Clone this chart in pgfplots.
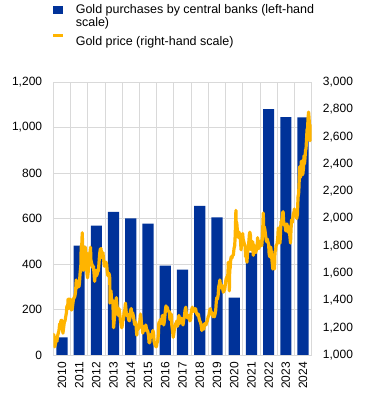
\documentclass[border=0pt]{standalone}
\usepackage{fontspec}
\setmainfont{Liberation Sans}
\usepackage{pgfplots}
\pgfplotsset{compat=1.18}
\definecolor{ecbblue}{HTML}{003299}
\definecolor{ecbgold}{HTML}{FFB400}
\definecolor{gridgray}{HTML}{D9D9D9}
\newcommand{\chartfont}{\fontsize{12bp}{13.5bp}\selectfont}
\newcommand{\legfont}{\fontsize{12.5bp}{13bp}\selectfont}
\begin{document}
\chartfont
\begin{tikzpicture}
\path[use as bounding box] (0,0) rectangle (373bp,405bp);
\begin{axis}[
  at={(53.3bp,50bp)}, anchor=south west, scale only axis,
  width=258.4bp, height=273bp,
  xmin=2010, xmax=2025, ymin=0, ymax=1200,
  ytick={0,200,400,600,800,1000,1200},
  xtick={2010.5,2011.5,2012.5,2013.5,2014.5,2015.5,2016.5,2017.5,2018.5,2019.5,2020.5,2021.5,2022.5,2023.5,2024.5},
  xticklabels={2010,2011,2012,2013,2014,2015,2016,2017,2018,2019,2020,2021,2022,2023,2024},
  minor xtick={2011,2012,2013,2014,2015,2016,2017,2018,2019,2020,2021,2022,2023,2024},
  xminorgrids=true, ymajorgrids=true, xmajorgrids=false,
  grid style={gridgray, line width=0.9bp},
  minor grid style={gridgray, line width=0.9bp},
  axis line style={gridgray, line width=0.9bp},
  major tick length=0pt, minor tick length=0pt,
  tick label style={font=\chartfont, inner sep=0pt, text=black},
  xticklabel style={rotate=90, anchor=east},
  xticklabel shift=7bp,
  yticklabel shift=11bp,
  /pgf/number format/.cd, 1000 sep={,}, assume math mode=true, /pgfplots/.cd,
]
\addplot[ybar, bar width=0.65, fill=ecbblue, draw=none] coordinates {
(2010.5,77) (2011.5,481) (2012.5,569) (2013.5,629) (2014.5,600) (2015.5,578)
(2016.5,393) (2017.5,375) (2018.5,656) (2019.5,605) (2020.5,252) (2021.5,450)
(2022.5,1081) (2023.5,1046) (2024.5,1044)};
\end{axis}
\begin{axis}[
  at={(53.3bp,50bp)}, anchor=south west, scale only axis,
  width=258.4bp, height=273bp,
  xmin=2010, xmax=2025, ymin=1000, ymax=3000,
  axis x line=none, axis y line*=right,
  y axis line style={draw=none},
  ytick={1000,1200,1400,1600,1800,2000,2200,2400,2600,2800,3000},
  major tick length=0pt,
  tick label style={font=\chartfont, inner sep=0pt, text=black},
  yticklabel shift=11bp,
  /pgf/number format/.cd, 1000 sep={,}, assume math mode=true, /pgfplots/.cd,
]
\addplot[ecbgold, line width=3.2bp, line join=round] coordinates {
(2010.00,1100) (2010.03,1150) (2010.08,1060) (2010.12,1080) (2010.17,1120) (2010.21,1100) (2010.25,1140) (2010.29,1160) (2010.33,1180) (2010.37,1230) (2010.40,1200) (2010.44,1250) (2010.48,1255) (2010.52,1210) (2010.56,1160) (2010.60,1200) (2010.64,1240) (2010.68,1250) (2010.72,1280) (2010.76,1310) (2010.79,1360) (2010.83,1340) (2010.86,1410) (2010.88,1340) (2010.92,1370) (2010.95,1410) (2010.99,1405)
(2011.02,1340) (2011.06,1330) (2011.10,1340) (2011.13,1370) (2011.17,1410) (2011.21,1420) (2011.25,1430) (2011.29,1460) (2011.31,1500) (2011.33,1550) (2011.36,1490) (2011.39,1510) (2011.42,1530) (2011.46,1540) (2011.49,1500) (2011.52,1530) (2011.55,1590) (2011.58,1630) (2011.60,1660) (2011.62,1800) (2011.64,1760) (2011.66,1830) (2011.68,1895) (2011.70,1810) (2011.72,1780) (2011.74,1620) (2011.77,1650) (2011.80,1680) (2011.83,1720) (2011.86,1790) (2011.89,1700) (2011.92,1750) (2011.95,1600) (2011.99,1565)
(2012.02,1600) (2012.06,1660) (2012.10,1740) (2012.14,1760) (2012.16,1790) (2012.18,1700) (2012.21,1680) (2012.25,1660) (2012.29,1640) (2012.33,1650) (2012.37,1590) (2012.40,1540) (2012.44,1600) (2012.48,1620) (2012.50,1580) (2012.54,1590) (2012.58,1610) (2012.62,1620) (2012.65,1670) (2012.69,1740) (2012.73,1775) (2012.77,1780) (2012.81,1720) (2012.85,1710) (2012.88,1750) (2012.92,1700) (2012.96,1650) (2012.99,1665)
(2013.02,1670) (2013.06,1680) (2013.10,1660) (2013.13,1610) (2013.17,1580) (2013.21,1600) (2013.25,1590) (2013.28,1560) (2013.29,1380) (2013.31,1420) (2013.35,1470) (2013.38,1400) (2013.42,1380) (2013.46,1400) (2013.48,1280) (2013.50,1200) (2013.52,1230) (2013.56,1290) (2013.60,1320) (2013.64,1400) (2013.66,1420) (2013.69,1370) (2013.73,1320) (2013.77,1290) (2013.81,1340) (2013.85,1310) (2013.89,1260) (2013.93,1230) (2013.97,1200) (2013.99,1205)
(2014.03,1250) (2014.07,1260) (2014.11,1310) (2014.15,1330) (2014.19,1380) (2014.22,1330) (2014.25,1290) (2014.29,1300) (2014.33,1290) (2014.37,1260) (2014.41,1250) (2014.45,1270) (2014.48,1320) (2014.52,1340) (2014.56,1300) (2014.60,1310) (2014.64,1290) (2014.67,1270) (2014.71,1230) (2014.75,1220) (2014.79,1240) (2014.83,1170) (2014.85,1145) (2014.88,1200) (2014.92,1190) (2014.96,1200) (2014.99,1200)
(2015.03,1260) (2015.06,1300) (2015.09,1270) (2015.12,1230) (2015.16,1200) (2015.19,1160) (2015.22,1180) (2015.25,1200) (2015.29,1210) (2015.33,1180) (2015.37,1220) (2015.41,1190) (2015.45,1180) (2015.49,1170) (2015.53,1140) (2015.56,1090) (2015.60,1090) (2015.63,1130) (2015.66,1150) (2015.70,1130) (2015.74,1140) (2015.78,1180) (2015.82,1160) (2015.85,1100) (2015.89,1080) (2015.93,1070) (2015.96,1060) (2015.99,1060)
(2016.02,1090) (2016.06,1100) (2016.10,1150) (2016.13,1240) (2016.17,1230) (2016.21,1260) (2016.25,1230) (2016.29,1240) (2016.33,1290) (2016.37,1270) (2016.41,1220) (2016.45,1250) (2016.48,1290) (2016.50,1320) (2016.54,1360) (2016.58,1330) (2016.62,1350) (2016.66,1320) (2016.70,1320) (2016.74,1320) (2016.77,1260) (2016.81,1270) (2016.85,1300) (2016.88,1220) (2016.92,1180) (2016.96,1130) (2016.99,1150)
(2017.03,1190) (2017.07,1210) (2017.11,1230) (2017.15,1240) (2017.18,1250) (2017.21,1210) (2017.25,1250) (2017.29,1290) (2017.33,1230) (2017.37,1260) (2017.41,1270) (2017.45,1260) (2017.49,1240) (2017.53,1220) (2017.57,1260) (2017.61,1280) (2017.65,1330) (2017.69,1350) (2017.73,1290) (2017.77,1280) (2017.81,1270) (2017.85,1290) (2017.89,1280) (2017.93,1250) (2017.97,1260) (2017.99,1300)
(2018.03,1330) (2018.07,1350) (2018.10,1330) (2018.14,1320) (2018.18,1340) (2018.22,1320) (2018.26,1340) (2018.30,1310) (2018.34,1300) (2018.38,1290) (2018.42,1300) (2018.46,1270) (2018.50,1250) (2018.54,1240) (2018.58,1220) (2018.62,1180) (2018.66,1200) (2018.70,1200) (2018.74,1190) (2018.78,1230) (2018.82,1230) (2018.86,1220) (2018.90,1240) (2018.94,1250) (2018.99,1280)
(2019.03,1290) (2019.07,1320) (2019.11,1340) (2019.15,1320) (2019.19,1300) (2019.23,1310) (2019.27,1280) (2019.31,1290) (2019.35,1280) (2019.39,1300) (2019.43,1330) (2019.46,1390) (2019.49,1420) (2019.53,1410) (2019.57,1440) (2019.60,1500) (2019.64,1520) (2019.67,1550) (2019.71,1500) (2019.75,1490) (2019.79,1510) (2019.83,1490) (2019.87,1460) (2019.91,1470) (2019.95,1480) (2019.99,1520)
(2020.02,1550) (2020.06,1570) (2020.10,1560) (2020.14,1600) (2020.16,1680) (2020.18,1600) (2020.20,1560) (2020.22,1470) (2020.24,1620) (2020.27,1640) (2020.30,1700) (2020.33,1720) (2020.37,1710) (2020.41,1730) (2020.45,1730) (2020.49,1780) (2020.53,1800) (2020.56,1880) (2020.58,1970) (2020.60,2060) (2020.62,1950) (2020.65,1970) (2020.68,1920) (2020.71,1900) (2020.74,1860) (2020.78,1900) (2020.82,1880) (2020.86,1850) (2020.90,1770) (2020.93,1840) (2020.97,1870) (2020.99,1890)
(2021.02,1850) (2021.06,1830) (2021.10,1810) (2021.14,1790) (2021.16,1720) (2021.18,1740) (2021.22,1700) (2021.24,1680) (2021.27,1740) (2021.31,1780) (2021.35,1830) (2021.38,1880) (2021.41,1900) (2021.45,1870) (2021.47,1780) (2021.50,1770) (2021.54,1810) (2021.57,1830) (2021.60,1810) (2021.61,1730) (2021.64,1790) (2021.68,1800) (2021.71,1760) (2021.75,1750) (2021.79,1770) (2021.83,1790) (2021.86,1860) (2021.89,1790) (2021.93,1780) (2021.97,1800) (2021.99,1810)
(2022.03,1810) (2022.07,1840) (2022.10,1800) (2022.13,1850) (2022.15,1900) (2022.17,1970) (2022.19,2040) (2022.21,1930) (2022.24,1940) (2022.28,1920) (2022.32,1880) (2022.35,1850) (2022.38,1830) (2022.42,1850) (2022.46,1830) (2022.50,1810) (2022.53,1740) (2022.56,1720) (2022.59,1770) (2022.62,1790) (2022.65,1760) (2022.69,1700) (2022.72,1660) (2022.74,1630) (2022.77,1680) (2022.81,1650) (2022.84,1630) (2022.87,1760) (2022.90,1760) (2022.93,1800) (2022.97,1810) (2022.99,1815)
(2023.03,1860) (2023.06,1930) (2023.09,1870) (2023.12,1830) (2023.16,1820) (2023.19,1900) (2023.22,1980) (2023.25,1980) (2023.28,2000) (2023.31,2040) (2023.34,2050) (2023.37,1980) (2023.41,1950) (2023.45,1960) (2023.49,1910) (2023.52,1920) (2023.56,1960) (2023.59,1940) (2023.62,1900) (2023.66,1940) (2023.70,1920) (2023.74,1860) (2023.77,1820) (2023.80,1920) (2023.83,1990) (2023.87,1970) (2023.91,2010) (2023.94,2040) (2023.96,2030) (2023.99,2070)
(2024.02,2040) (2024.06,2020) (2024.10,2030) (2024.13,2000) (2024.17,2030) (2024.19,2100) (2024.21,2160) (2024.24,2180) (2024.26,2230) (2024.28,2300) (2024.30,2380) (2024.31,2330) (2024.34,2300) (2024.37,2360) (2024.40,2420) (2024.42,2340) (2024.45,2320) (2024.49,2330) (2024.53,2380) (2024.55,2460) (2024.58,2400) (2024.61,2440) (2024.64,2500) (2024.67,2510) (2024.70,2580) (2024.73,2650) (2024.76,2660) (2024.79,2740) (2024.82,2780) (2024.85,2730) (2024.88,2620) (2024.90,2570) (2024.93,2640) (2024.95,2680) (2024.97,2640) (2024.99,2620)
};
\end{axis}
% legend
\fill[ecbblue] (53.3bp,391bp) rectangle (63.3bp,399bp);
\node[anchor=base west, inner sep=0pt, font=\legfont] at (75.6bp,391bp) {Gold purchases by central banks (left-hand};
\node[anchor=base west, inner sep=0pt, font=\legfont] at (75.6bp,378bp) {scale)};
\fill[ecbgold] (53.3bp,367.7bp) rectangle (63.3bp,370.7bp);
\node[anchor=base west, inner sep=0pt, font=\legfont] at (75.6bp,359.3bp) {Gold price (right-hand scale)};
\end{tikzpicture}
\end{document}
